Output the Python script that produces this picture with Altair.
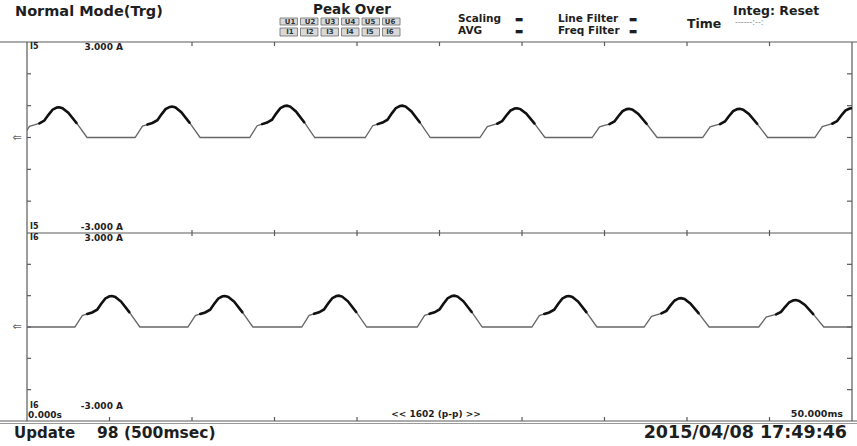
import altair as alt
import pandas as pd

# ---------------- data ----------------
# one cycle of the current pulse: time offset from the start of the rise (ms), relative height
profile_ms = [0.0, 0.45, 0.75, 1.05, 1.35, 1.6, 1.85, 2.1, 2.25, 2.45, 2.8, 3.3, 3.94]
profile_rel = [0.0, 0.37, 0.42, 0.47, 0.56, 0.75, 0.92, 0.99, 1.0, 0.97, 0.82, 0.48, 0.0]

# I5 (upper trace): start of each pulse (ms) and its peak (A)
i5_start_ms = [-0.3, 6.55, 13.5, 20.5, 27.45, 34.25, 40.95, 47.75]
i5_peak_a = [0.95, 0.97, 1.0, 1.0, 0.92, 0.9, 0.9, 0.92]

# I6 (lower trace)
i6_start_ms = [2.9, 9.75, 16.65, 23.65, 30.6, 37.4, 44.35]
i6_peak_a = [0.99, 0.99, 1.0, 1.0, 0.99, 0.92, 0.86]

time_domain_ms = [0, 50]
amp_domain = [-3, 3]
amp_ticks = [-2, -1, 0, 1, 2]
top_ticks_ms = [10, 15, 20, 25, 30, 35, 40, 45]
bottom_ticks_ms = [5, 10, 15, 20, 30, 35, 40, 45]

u_boxes = ["U1", "U2", "U3", "U4", "U5", "U6"]
i_boxes = ["I1", "I2", "I3", "I4", "I5", "I6"]

txt_mode = "Normal Mode(Trg)"
txt_peak = "Peak Over"
txt_scaling = "Scaling"
txt_avg = "AVG"
txt_line_filter = "Line Filter"
txt_freq_filter = "Freq Filter"
txt_block = "▬"
txt_time = "Time"
txt_integ = "Integ: Reset"
txt_integ_time = "------:--:"
txt_update = "Update"
txt_update_n = "98 (500msec)"
txt_date = "2015/04/08 17:49:46"
txt_ch_top = "I5"
txt_ch_bot = "I6"
txt_pos = "3.000 A"
txt_neg = "-3.000 A"
txt_t0 = "0.000s"
txt_t1 = "50.000ms"
txt_pp = "<< 1602 (p-p) >>"


def build(starts, peaks, lead, tail):
    rows = []
    if lead:
        rows.append({"t": time_domain_ms[0], "v": 0.0, "cyc": -1})
    for i, (s, p) in enumerate(zip(starts, peaks)):
        for o, r in zip(profile_ms, profile_rel):
            rows.append({"t": round(s + o, 3), "v": round(r * p, 3), "cyc": i})
    if tail:
        rows.append({"t": time_domain_ms[1], "v": 0.0, "cyc": 99})
    return pd.DataFrame(rows)


df_i5 = build(i5_start_ms, i5_peak_a, False, False)
df_i6 = build(i6_start_ms, i6_peak_a, True, True)

W, H = 825, 379
TOP_RANGE = [191, 0]
BOT_RANGE = [379, 191]

FONT = "DejaVu Sans"
INK = "#1e1e1e"
FRAME = "#5a5a5a"


def xscale():
    return alt.Scale(domain=time_domain_ms, nice=False, zero=False)


def yscale(rng):
    return alt.Scale(domain=amp_domain, range=rng, nice=False, zero=False)


def wave(df, rng):
    base = alt.Chart(df)
    thin = base.mark_line(color="#666666", strokeWidth=1.3, clip=True).encode(
        x=alt.X("t:Q", scale=xscale(), axis=None),
        y=alt.Y("v:Q", scale=yscale(rng), axis=None),
        order="t:Q",
    )
    thick = base.transform_filter("datum.v > 0.4").mark_line(
        color="#111111", strokeWidth=2.6, clip=True, strokeCap="round"
    ).encode(
        x=alt.X("t:Q", scale=xscale(), axis=None),
        y=alt.Y("v:Q", scale=yscale(rng), axis=None),
        detail="cyc:N",
        order="t:Q",
    )
    return [thin, thick]


def label(txt, x, y, size, align="left", weight="bold", color=INK, font=FONT):
    return alt.Chart(alt.Data(values=[{"s": txt}])).mark_text(
        align=align, baseline="middle", fontSize=size, fontWeight=weight,
        font=font, color=color
    ).encode(x=alt.value(x), y=alt.value(y), text="s:N")


def hline(y, x1, x2, color=FRAME, w=1.2):
    return alt.Chart(alt.Data(values=[{"k": 0}])).mark_rule(color=color, strokeWidth=w).encode(
        x=alt.value(x1), x2=alt.value(x2), y=alt.value(y)
    )


def vline(x, y1, y2, color=FRAME, w=1.2):
    return alt.Chart(alt.Data(values=[{"k": 0}])).mark_rule(color=color, strokeWidth=w).encode(
        x=alt.value(x), y=alt.value(y1), y2=alt.value(y2)
    )


def xticks(vals, y1, y2):
    d = pd.DataFrame({"t": vals})
    return alt.Chart(d).mark_rule(color=FRAME, strokeWidth=1.2).encode(
        x=alt.X("t:Q", scale=xscale(), axis=None), y=alt.value(y1), y2=alt.value(y2)
    )


def yticks(rng, x1, x2):
    d = pd.DataFrame({"v": amp_ticks})
    return alt.Chart(d).mark_rule(color=FRAME, strokeWidth=1.2).encode(
        y=alt.Y("v:Q", scale=yscale(rng), axis=None), x=alt.value(x1), x2=alt.value(x2)
    )


def zero_mark(rng):
    d = pd.DataFrame({"v": [0], "s": ["⇐"]})
    return alt.Chart(d).mark_text(fontSize=11, color="#666666", font=FONT, align="center", baseline="middle").encode(
        y=alt.Y("v:Q", scale=yscale(rng), axis=None), x=alt.value(-10), text="s:N"
    )


def boxes(labels, y1, y2):
    d = pd.DataFrame({"lab": labels})
    bs = alt.Scale(domain=labels, range=[253, 373], paddingInner=0.15, paddingOuter=0)
    r = alt.Chart(d).mark_rect(fill="#d9d9d9", stroke="#6a6a6a", strokeWidth=0.8).encode(
        x=alt.X("lab:N", scale=bs, axis=None), y=alt.value(y1), y2=alt.value(y2)
    )
    t = alt.Chart(d).mark_text(fontSize=7, fontWeight="bold", font=FONT, color="#333333", baseline="middle").encode(
        x=alt.X("lab:N", scale=bs, axis=None), y=alt.value((y1 + y2) / 2), text="lab:N"
    )
    return [r, t]


layers = []
# frame
layers += [
    hline(0, -27, 830),
    hline(379, -27, 830),
    hline(381.5, -27, 830, color="#9a9a9a", w=1.0),
    hline(191, 0, 825),
    vline(0, 0, 379),
    vline(825, 0, 379),
]
# ticks
layers += [
    xticks(top_ticks_ms, 0, 4),
    xticks(top_ticks_ms, 188, 194),
    xticks(bottom_ticks_ms, 375, 379),
    yticks(TOP_RANGE, 0, 4),
    yticks(TOP_RANGE, 820, 825),
    yticks(BOT_RANGE, 0, 4),
    yticks(BOT_RANGE, 820, 825),
    zero_mark(TOP_RANGE),
    zero_mark(BOT_RANGE),
]
# waveforms
layers += wave(df_i5, TOP_RANGE)
layers += wave(df_i6, BOT_RANGE)
# header
layers += [
    label(txt_mode, -12, -30, 14.5),
    label(txt_peak, 325, -32, 13.5, align="center"),
    label(txt_scaling, 431, -23, 10.5),
    label(txt_block, 492, -23, 9, align="center"),
    label(txt_avg, 431, -11, 10.5),
    label(txt_block, 492, -11, 9, align="center"),
    label(txt_line_filter, 531, -23, 10.5),
    label(txt_block, 606, -23, 9, align="center"),
    label(txt_freq_filter, 531, -11, 10.5),
    label(txt_block, 606, -11, 9, align="center"),
    label(txt_time, 660, -18, 12.5),
    label(txt_integ, 706, -31, 12.5),
    label(txt_integ_time, 708, -19, 8, color="#8a8a8a", weight="normal"),
]
layers += boxes(u_boxes, -24, -17)
layers += boxes(i_boxes, -14, -6)
# in-plot labels
layers += [
    label(txt_ch_top, 3, 5, 8),
    label(txt_pos, 96, 5, 9, align="right"),
    label(txt_ch_top, 3, 185, 8),
    label(txt_neg, 96, 185, 9, align="right"),
    label(txt_ch_bot, 3, 196, 8),
    label(txt_pos, 96, 196, 9, align="right"),
    label(txt_ch_bot, 3, 364, 8),
    label(txt_neg, 96, 364, 9, align="right"),
    label(txt_t0, 1, 373, 9),
    label(txt_pp, 409, 372, 9, align="center"),
    label(txt_t1, 816, 372, 9.5, align="right"),
]
# footer
layers += [
    label(txt_update, -13, 391, 15),
    label(txt_update_n, 70, 391, 15.5),
    label(txt_date, 820, 391, 17.5, align="right"),
]

chart = alt.layer(*layers).resolve_scale(x="independent", y="independent").properties(
    width=W,
    height=H,
    padding={"left": 27, "top": 42, "right": 5, "bottom": 25},
    autosize=alt.AutoSizeParams(type="none"),
    background="white",
).configure_view(stroke=None)

chart.save("out.html", embed_options={"renderer": "svg", "actions": False})
